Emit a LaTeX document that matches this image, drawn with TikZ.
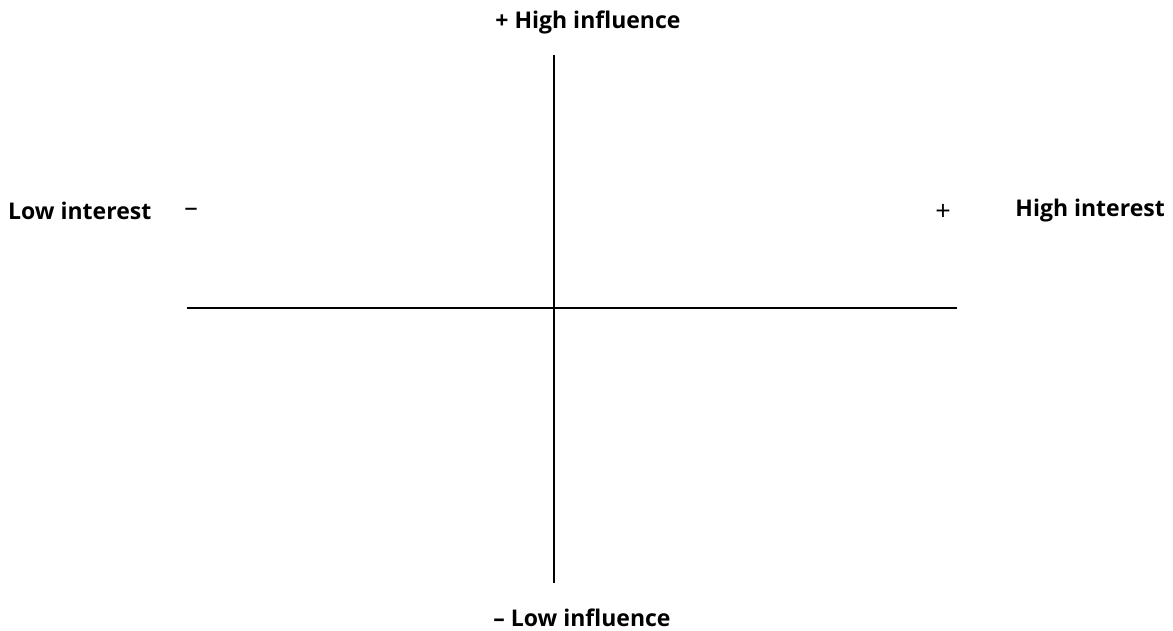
\documentclass[tikz,border=0pt]{standalone}
\usepackage{fontspec}
\setmainfont{Open Sans}
\begin{document}
\begin{tikzpicture}[x=1pt,y=-1pt,
  lab/.style={font=\fontsize{23}{27}\selectfont\bfseries, inner sep=0pt, anchor=center},
  sym/.style={font=\fontsize{27}{30}\selectfont, inner sep=0pt, anchor=center},
  axis/.style={line width=1.4pt, black}]
\useasboundingbox (0,0) rectangle (1173,631);
\coordinate (vt) at (554,55);
\coordinate (vb) at (554,583);
\coordinate (hl) at (187,308);
\coordinate (hr) at (957,308);
\draw[axis] (vt) -- (vb);
\draw[axis] (hl) -- (hr);
\node[lab] (hinf) at (588,22) {+ High influence};
\node[lab] (linf) at (582,618) {– Low influence};
\node[lab, anchor=west] (lint) at (8,211) {Low interest};
\node[sym] (minus) at (191,212) {–};
\node[sym] (plus) at (943,212) {+};
\node[lab, anchor=east] (hint) at (1165,211) {High interest};
\end{tikzpicture}
\end{document}
